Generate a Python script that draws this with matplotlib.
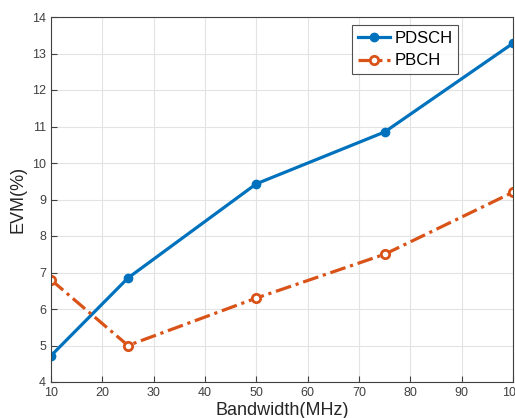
import matplotlib
matplotlib.use("Agg")
import matplotlib.pyplot as plt

bandwidth = [10, 25, 50, 75, 100]
pdsch = [4.72, 6.85, 9.43, 10.85, 13.28]
pbch = [6.8, 5.0, 6.3, 7.5, 9.2]
xticks = [10, 20, 30, 40, 50, 60, 70, 80, 90, 100]
yticks = [4, 5, 6, 7, 8, 9, 10, 11, 12, 13, 14]

plt.rcParams['font.family'] = ['Liberation Sans', 'DejaVu Sans']

fig = plt.figure(figsize=(5.15, 4.18), dpi=100)
ax = fig.add_axes([51/515, 1-382/418, 462/515, 365/418])

blue = '#0072BD'
orange = '#D95319'
ax.plot(bandwidth, pdsch, '-', color=blue, lw=2.3, marker='o', ms=6,
        markerfacecolor=blue, label='PDSCH')
ax.plot(bandwidth, pbch, '-.', color=orange, lw=2.3, marker='o', ms=6,
        markerfacecolor='white', markeredgewidth=2, label='PBCH',
        dashes=(5, 1.5, 1, 1.5))

ax.set_xlim(10, 100)
ax.set_ylim(4, 14)
ax.set_xticks(xticks)
ax.set_yticks(yticks)
ax.grid(True, color='#e3e3e3', lw=0.8)
ax.set_axisbelow(True)
ax.tick_params(direction='in', labelsize=9, colors='#404040', length=4, width=0.8)
for s in ax.spines.values():
    s.set_color('#404040')
    s.set_linewidth(0.8)
ax.set_xlabel('Bandwidth(MHz)', fontsize=13, color='#262626', labelpad=2)
ax.set_ylabel('EVM(%)', fontsize=13, color='#262626', labelpad=4)

leg = ax.legend(loc='upper left', bbox_to_anchor=(301/462, 1-8/365), fontsize=12,
                frameon=True, fancybox=False, edgecolor='#262626',
                handlelength=1.9, borderpad=0.35, labelspacing=0.45, handletextpad=0.3,
                borderaxespad=0)
leg.get_frame().set_linewidth(0.8)

fig.savefig('out.png', dpi=100)
